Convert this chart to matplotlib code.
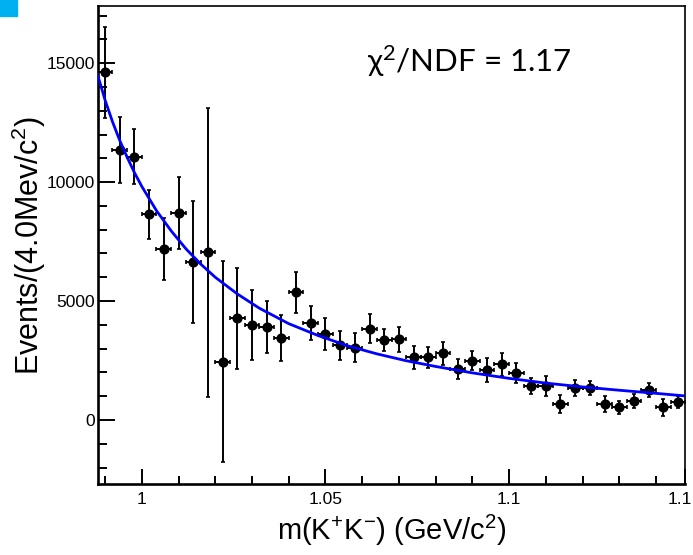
import matplotlib
matplotlib.use("Agg")
import matplotlib.pyplot as plt
from matplotlib.patches import Rectangle
from matplotlib.ticker import MultipleLocator
from matplotlib.transforms import ScaledTranslation

# ── 数据：m(K+K-) 每 4 MeV 一个 bin ─────────────────────────
mass = [0.990, 0.994, 0.998, 1.002, 1.006, 1.010, 1.014, 1.018, 1.022, 1.026,
        1.030, 1.034, 1.038, 1.042, 1.046, 1.050, 1.054, 1.058, 1.062, 1.066,
        1.070, 1.074, 1.078, 1.082, 1.086, 1.090, 1.094, 1.098, 1.102, 1.106,
        1.110, 1.114, 1.118, 1.122, 1.126, 1.130, 1.134, 1.138, 1.142, 1.146]
events = [14610, 11345, 11065, 8656, 7190, 8712, 6653, 7045, 2450, 4273,
          3992, 3922, 3459, 5365, 4062, 3614, 3151, 3039, 3838, 3362,
          3390, 2633, 2633, 2801, 2129, 2493, 2101, 2339, 1961, 1429,
          1429, 672, 1359, 1359, 672, 532, 784, 1261, 532, 770]
errors = [1900, 1380, 1150, 1030, 1300, 1520, 2570, 6070, 4230, 2120,
          1460, 1100, 960, 860, 720, 670, 610, 600, 600, 470,
          520, 470, 450, 490, 420, 390, 510, 490, 420, 340,
          430, 370, 330, 300, 330, 270, 300, 300, 350, 250]
half_bin = 0.002

# 拟合曲线（从图上读取的点）
fit_x = [0.988, 0.990, 0.992, 0.994, 0.996, 0.998, 1.000, 1.004, 1.008, 1.012,
         1.016, 1.020, 1.026, 1.032, 1.040, 1.048, 1.056, 1.064, 1.072, 1.080,
         1.090, 1.100, 1.110, 1.120, 1.130, 1.140, 1.148]
fit_y = [14500, 13450, 12550, 11750, 11050, 10400, 9820, 8800, 7950, 7200,
         6560, 6000, 5300, 4700, 4050, 3550, 3120, 2780, 2490, 2250,
         1980, 1750, 1550, 1390, 1250, 1120, 1010]

x_ticks = [1.0, 1.05, 1.1, 1.148]
x_ticklabels = ["1", "1.05", "1.1", "1.1"]
chi2_text = r"$\chi^2$/NDF = 1.17"

plt.rcParams["font.family"] = ["Liberation Sans", "DejaVu Sans"]
plt.rcParams["mathtext.fontset"] = "stix"
plt.rcParams["mathtext.default"] = "regular"

fig = plt.figure(figsize=(6.93, 5.55), dpi=100)
ax = fig.add_axes([0.141, 0.128, 0.848, 0.861])

ax.errorbar(mass, events, yerr=errors, xerr=half_bin, fmt="o", color="black",
            markersize=6.3, elinewidth=1.4, capsize=1.6, capthick=1.2, zorder=3)
ax.plot(fit_x, fit_y, color="#0000ff", linewidth=2.0, zorder=4)

ax.set_xlim(0.988, 1.148)
ax.set_ylim(-2690, 17400)

ax.xaxis.set_minor_locator(MultipleLocator(0.01))
ax.yaxis.set_major_locator(MultipleLocator(5000))
ax.yaxis.set_minor_locator(MultipleLocator(1000))
ax.set_xticks(x_ticks)
ax.set_xticklabels(x_ticklabels)

ax.tick_params(axis="both", which="both", direction="in", top=False, right=False,
               labelsize=12.5, width=1.4)
ax.tick_params(axis="x", which="major", length=11, pad=6)
ax.tick_params(axis="x", which="minor", length=5.5)
ax.tick_params(axis="y", which="major", length=12, pad=2)
ax.tick_params(axis="y", which="minor", length=6.5)

# 最右边的 "1.1" 在原图中被截断，这里往左挪一点
last = ax.get_xticklabels()[-1]
last.set_horizontalalignment("left")
last.set_transform(last.get_transform() + ScaledTranslation(-18 / 100, 0, fig.dpi_scale_trans))

for side in ["left", "bottom"]:
    ax.spines[side].set_linewidth(1.9)
for side in ["top", "right"]:
    ax.spines[side].set_linewidth(1.2)

ax.set_xlabel(r"m(K$^{+}$K$^{-}$) (GeV/c$^{2}$)", fontsize=21, labelpad=4)
ax.set_ylabel(r"Events/(4.0Mev/c$^{2}$)", fontsize=22, labelpad=-1)

fig.text(367 / 693, 1 - 72 / 555, chi2_text, fontsize=22.5, family="Lato",
         va="baseline", ha="left")

# 左上角蓝色方块
fig.patches.append(Rectangle((0, 1 - 16 / 555), 17 / 693, 16 / 555,
                             transform=fig.transFigure, color="#00b0f0",
                             zorder=0))

fig.savefig("out.png", dpi=100)
